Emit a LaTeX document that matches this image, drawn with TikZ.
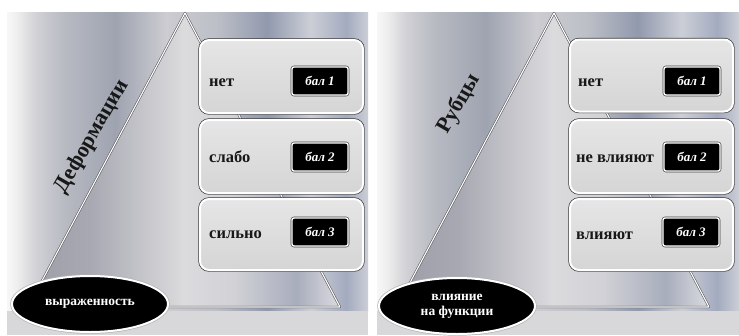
\documentclass[tikz,border=0pt]{standalone}
\usepackage{fontspec}
\setmainfont{Liberation Serif}
\usetikzlibrary{shapes.geometric,shadows}
\pgfdeclarehorizontalshading{panelsh}{100bp}{rgb(0bp)=(0.97,0.97,0.97); rgb(25bp)=(0.97,0.97,0.97); rgb(26.5bp)=(0.93,0.93,0.93); rgb(29bp)=(0.82,0.82,0.84); rgb(33bp)=(0.72,0.73,0.76); rgb(40bp)=(0.62,0.64,0.69); rgb(47bp)=(0.80,0.80,0.82); rgb(54bp)=(0.74,0.75,0.78); rgb(61bp)=(0.57,0.60,0.68); rgb(67bp)=(0.80,0.81,0.84); rgb(72bp)=(0.64,0.67,0.75); rgb(75bp)=(0.80,0.81,0.84); rgb(100bp)=(0.80,0.81,0.84)}
\pgfdeclarehorizontalshading{trish}{100bp}{rgb(0bp)=(0.62,0.62,0.66); rgb(25bp)=(0.62,0.62,0.66); rgb(35bp)=(0.66,0.66,0.70); rgb(50bp)=(0.86,0.86,0.87); rgb(58bp)=(0.82,0.82,0.84); rgb(68bp)=(0.66,0.68,0.74); rgb(75bp)=(0.86,0.86,0.88); rgb(100bp)=(0.86,0.86,0.88)}
\definecolor{floorc}{RGB}{216,216,218}
\definecolor{edgec}{RGB}{85,85,90}
\definecolor{labc}{RGB}{24,24,24}
\tikzset{
  panel/.style={shading=panelsh},
  floor/.style={fill=floorc},
  tri/.style={shading=trish},
  triedge/.style={draw=edgec, line width=2.2pt, line join=round},
  trihi/.style={draw=white, line width=1.1pt, line join=round},
  gbox/.style={rectangle, rounded corners=9pt, minimum width=163pt, inner sep=0pt,
    top color=gray!20, bottom color=gray!33, draw=white, line width=2pt,
    preaction={draw=gray!45!black, line width=3.4pt},
    drop shadow={shadow xshift=1.2pt, shadow yshift=-1.5pt, opacity=0.35}},
  bbox/.style={rectangle, rounded corners=2pt, minimum width=56pt, minimum height=28pt, inner sep=0pt,
    fill=black, draw=white, line width=1.4pt,
    preaction={draw=gray!50!black, line width=2.6pt},
    text=white, font=\bfseries\itshape\fontsize{13}{14}\selectfont,
    drop shadow={shadow xshift=1pt, shadow yshift=-1pt, opacity=0.4}},
  lab/.style={anchor=base west, inner sep=0pt, text=labc, font=\bfseries\fontsize{16.5}{18}\selectfont},
  oval/.style={ellipse, minimum width=156pt, minimum height=56pt, inner sep=0pt,
    fill=black, draw=white, line width=2pt,
    preaction={draw=gray!60, line width=3.4pt},
    text=white, align=center, font=\bfseries\fontsize{13.5}{15}\selectfont},
  ttl/.style={rotate=60, inner sep=0pt, text=labc, font=\bfseries\fontsize{22}{24}\selectfont}
}
\begin{document}
\begin{tikzpicture}[x=1pt,y=-1pt]
\useasboundingbox (0,0) rectangle (739,335);
\fill[white] (0,0) rectangle (739,335);
% ---------- left panel ----------
\shade[panel] (7,12) rectangle (368,311);
\fill[floor] (7,311) rectangle (368,335);
\coordinate (La) at (185,13);
\coordinate (Lb) at (28,307);
\coordinate (Lc) at (340,307);
\shade[tri] (La) -- (Lb) -- (Lc) -- cycle;
\draw[triedge] (La) -- (Lb) -- (Lc) -- cycle;
\draw[trihi] (La) -- (Lb) -- (Lc) -- cycle;
\node[gbox, minimum height=73pt] (L1) at (281.5,76.5) {};
\node[gbox, minimum height=73pt] (L2) at (281.5,156.5) {};
\node[gbox, minimum height=71pt] (L3) at (281.5,234.5) {};
\node[lab] (L1t) at (209,86) {нет};
\node[lab] (L2t) at (209,162) {слабо};
\node[lab] (L3t) at (209,238) {сильно};
\node[bbox] (L1b) at (320,81) {бал 1};
\node[bbox] (L2b) at (320,157) {бал 2};
\node[bbox] (L3b) at (320,232) {бал 3};
\node[oval] (Le) at (90,304) {выраженность};
\node[ttl] (Lt) at (92,137) {Деформации};
% ---------- right panel ----------
\begin{scope}[xshift=370pt]
\shade[panel] (7,12) rectangle (369,311);
\fill[floor] (7,311) rectangle (369,335);
\coordinate (Ra) at (184,13);
\coordinate (Rb) at (27,307);
\coordinate (Rc) at (339,307);
\shade[tri] (Ra) -- (Rb) -- (Rc) -- cycle;
\draw[triedge] (Ra) -- (Rb) -- (Rc) -- cycle;
\draw[trihi] (Ra) -- (Rb) -- (Rc) -- cycle;
\node[gbox, minimum height=72pt] (R1) at (281.5,75.5) {};
\node[gbox, minimum height=73pt] (R2) at (281.5,156.5) {};
\node[gbox, minimum height=71pt] (R3) at (281.5,234.5) {};
\node[lab] (R1t) at (208,86) {нет};
\node[lab] (R2t) at (206,162) {не влияют};
\node[lab] (R3t) at (206,239) {влияют};
\node[bbox] (R1b) at (322,81) {бал 1};
\node[bbox] (R2b) at (322,157) {бал 2};
\node[bbox] (R3b) at (321,232) {бал 3};
\node[oval] (Re) at (87,306) {влияние\\на функции};
\node[ttl] (Rt) at (89,104) {Рубцы};
\end{scope}
\end{tikzpicture}
\end{document}
